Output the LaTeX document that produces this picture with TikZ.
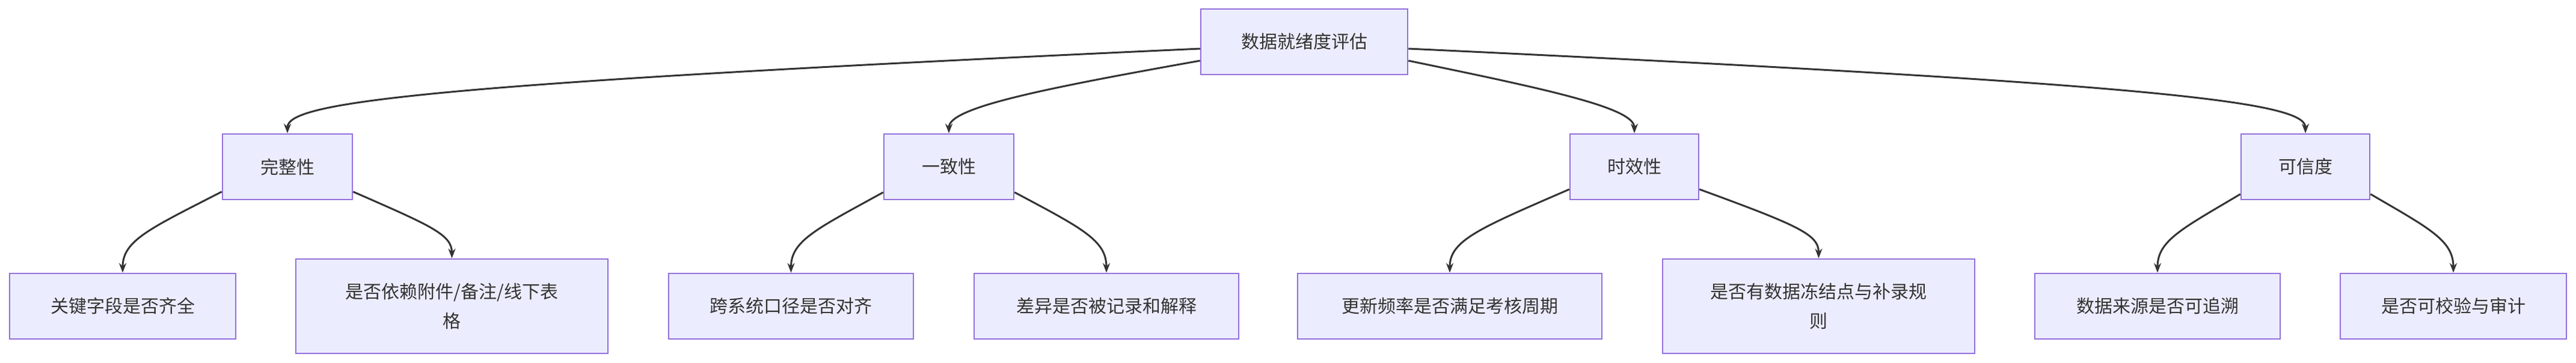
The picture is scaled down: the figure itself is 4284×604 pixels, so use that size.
\documentclass[tikz,border=0pt]{standalone}
\usepackage{fontspec}
\setmainfont{Noto Sans CJK SC}
\usetikzlibrary{arrows.meta}
\definecolor{nfill}{HTML}{ECECFF}
\definecolor{nline}{HTML}{9370DB}
\definecolor{eline}{HTML}{333333}
\begin{document}
\begin{tikzpicture}[x=1pt,y=-1pt,
  box/.style={draw=nline,fill=nfill,line width=2.5pt,inner sep=0pt,align=center,
    text=eline,font=\fontsize{30}{49}\selectfont},
  edge/.style={draw=eline,line width=3pt,-{Stealth[length=16pt,width=12pt]}}]
\useasboundingbox (0,0) rectangle (4284,604);
\node[box,minimum width=344pt,minimum height=109pt] (root) at (2169,69.5) {数据就绪度评估};
\node[box,minimum width=216pt,minimum height=109pt] (c1) at (478,277.5) {完整性};
\node[box,minimum width=216pt,minimum height=109pt] (c2) at (1578,277.5) {一致性};
\node[box,minimum width=214pt,minimum height=109pt] (c3) at (2718,277.5) {时效性};
\node[box,minimum width=214pt,minimum height=109pt] (c4) at (3834,277.5) {可信度};
\node[box,minimum width=376pt,minimum height=109pt] (l1) at (204,509.5) {关键字段是否齐全};
\node[box,minimum width=519pt,minimum height=157pt] (l2) at (751.5,509.5) {是否依赖附件/备注/线下表\\格};
\node[box,minimum width=407pt,minimum height=109pt] (l3) at (1315.5,509.5) {跨系统口径是否对齐};
\node[box,minimum width=440pt,minimum height=109pt] (l4) at (1840,509.5) {差异是否被记录和解释};
\node[box,minimum width=506pt,minimum height=109pt] (l5) at (2411,509.5) {更新频率是否满足考核周期};
\node[box,minimum width=519pt,minimum height=157pt] (l6) at (3024.5,509.5) {是否有数据冻结点与补录规\\则};
\node[box,minimum width=408pt,minimum height=109pt] (l7) at (3588,509.5) {数据来源是否可追溯};
\node[box,minimum width=376pt,minimum height=109pt] (l8) at (4080,509.5) {是否可校验与审计};
% root edges
\draw[edge] ([yshift=-11.5pt]root.west) .. controls (700,140) and (478,170) .. (c1.north);
\draw[edge] ([yshift=-31.5pt]root.west) .. controls (1720,150) and (1578,180) .. (c2.north);
\draw[edge] ([yshift=-31.5pt]root.east) .. controls (2580,150) and (2718,180) .. (c3.north);
\draw[edge] ([yshift=-11.5pt]root.east) .. controls (3600,140) and (3834,170) .. (c4.north);
% child edges
\draw[edge] ([yshift=-41.5pt]c1.west) .. controls (250,380) and (204,400) .. (l1.north);
\draw[edge] ([yshift=-41.5pt]c1.east) .. controls (715,375) and (751.5,390) .. (l2.north);
\draw[edge] ([yshift=-42.5pt]c2.west) .. controls (1360,380) and (1315.5,400) .. (l3.north);
\draw[edge] ([yshift=-42.5pt]c2.east) .. controls (1800,380) and (1840,400) .. (l4.north);
\draw[edge] ([yshift=-37.5pt]c3.west) .. controls (2460,380) and (2411,400) .. (l5.north);
\draw[edge] ([yshift=-37.5pt]c3.east) .. controls (2990,375) and (3024.5,390) .. (l6.north);
\draw[edge] ([yshift=-45.5pt]c4.west) .. controls (3630,380) and (3588,400) .. (l7.north);
\draw[edge] ([yshift=-45.5pt]c4.east) .. controls (4040,380) and (4080,400) .. (l8.north);
\end{tikzpicture}
\end{document}
